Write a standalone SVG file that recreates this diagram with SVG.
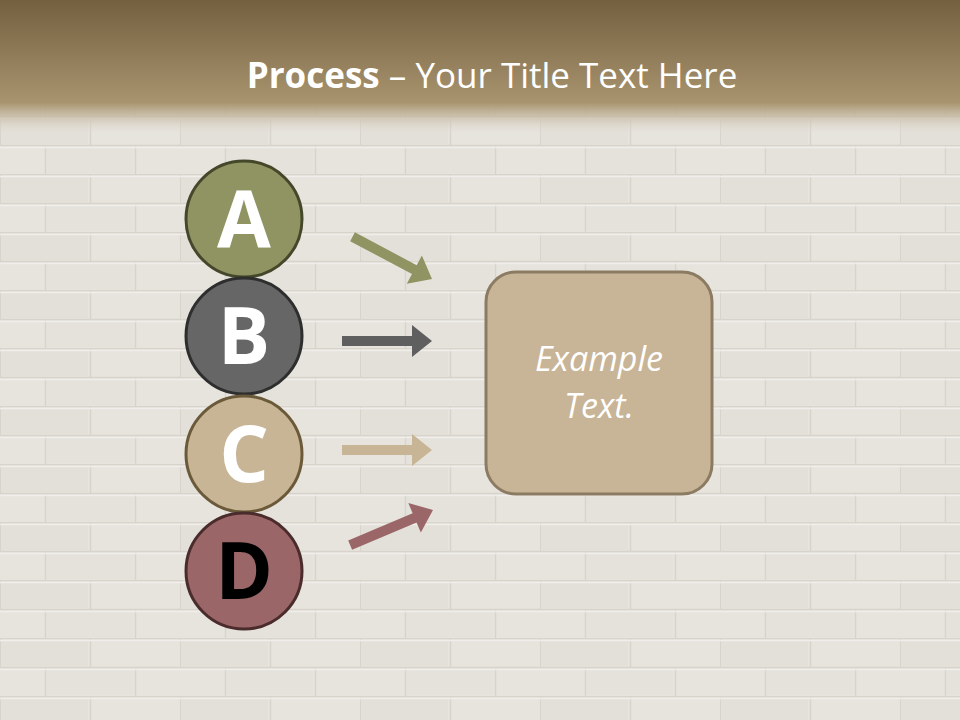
<svg xmlns="http://www.w3.org/2000/svg" width="960" height="720" viewBox="0 0 960 720">
<defs>
<style>
.letter{font-family:"Open Sans","Noto Sans","DejaVu Sans",sans-serif;font-weight:bold;font-size:78px;text-anchor:middle}
.title{font-family:"Open Sans","Noto Sans","DejaVu Sans",sans-serif;font-size:35px;fill:#ffffff;text-anchor:middle}
.body{font-family:"Open Sans","Noto Sans","DejaVu Sans",sans-serif;font-style:italic;font-size:34px;fill:#ffffff;text-anchor:middle}
.node{stroke-width:3}
</style>
<linearGradient id="hdr" x1="0" y1="0" x2="0" y2="1">
<stop offset="0" stop-color="#74603f"/>
<stop offset="0.76" stop-color="#a8946e"/>
<stop offset="0.86" stop-color="#c4b79f" stop-opacity="0.8"/>
<stop offset="1" stop-color="#e6e3dd" stop-opacity="0"/>
</linearGradient>
<pattern id="brick" width="180" height="58" patternUnits="userSpaceOnUse">
<rect width="180" height="58" fill="#e7e4de"/>
<rect x="2" y="3" width="86" height="25" fill="#e3e0d9"/>
<rect x="47" y="32" width="86" height="25" fill="#e5e2dc"/>
<path d="M0 0.5H180M0 29.5H180M0.5 0V29M90.5 0V29M45.5 29V58M135.5 29V58" stroke="#d8d4cc" stroke-width="1.5" fill="none"/>
<path d="M0 2.5H180M0 31.5H180" stroke="#f0eeea" stroke-width="1.5" fill="none"/>
</pattern>
<path id="arr" d="M-90,-5 L-20,-5 L-20,-16 L0,0 L-20,16 L-20,5 L-90,5 Z"/>
</defs>
<rect width="960" height="720" fill="url(#brick)"/>
<rect width="960" height="135" fill="url(#hdr)"/>
<text class="title" x="492" y="88"><tspan font-weight="bold">Process</tspan> – Your Title Text Here</text>
<g id="connectors">
<use href="#arr" fill="#8f9462" transform="translate(432,279) rotate(28)"/>
<use href="#arr" fill="#5f5f5f" transform="translate(432,341)"/>
<use href="#arr" fill="#c8b596" transform="translate(432,450)"/>
<use href="#arr" fill="#9b6668" transform="translate(433,510) rotate(-23)"/>
</g>
<g id="nodeA"><circle class="node" cx="244" cy="219" r="58" fill="#8f9462" stroke="#45472a"/><text class="letter" x="244" y="247" fill="#ffffff">A</text></g>
<g id="nodeB"><circle class="node" cx="244" cy="336" r="58" fill="#666666" stroke="#2e2e2e"/><text class="letter" x="244" y="364" fill="#ffffff">B</text></g>
<g id="nodeC"><circle class="node" cx="244" cy="454" r="58" fill="#c8b596" stroke="#6b5a3a"/><text class="letter" x="244" y="482" fill="#ffffff">C</text></g>
<g id="nodeD"><circle class="node" cx="244" cy="571" r="58" fill="#9b6668" stroke="#4a2c2c"/><text class="letter" x="244" y="599" fill="#000000">D</text></g>
<g id="box"><rect x="486" y="272" width="226" height="222" rx="30" fill="#c8b496" stroke="#8b7b63" stroke-width="3"/>
<text class="body" x="599" y="371">Example</text><text class="body" x="599" y="418">Text.</text></g>
</svg>
